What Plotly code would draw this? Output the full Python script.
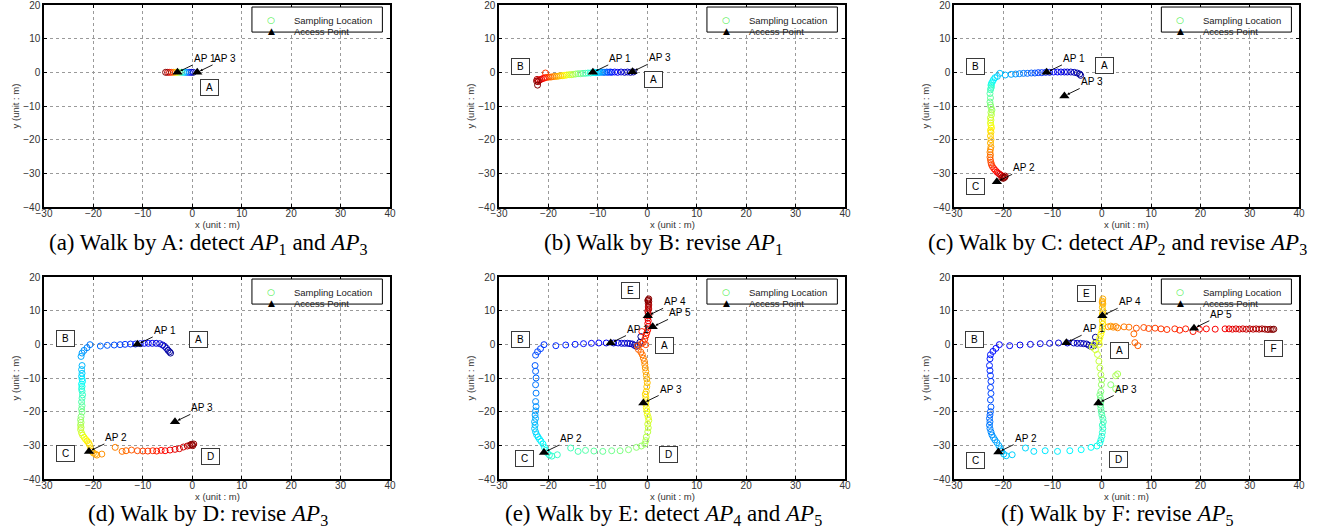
import plotly.graph_objects as go

# ---------------- data ----------------
X_TICKS = [-30, -20, -10, 0, 10, 20, 30, 40]
Y_TICKS = [-40, -30, -20, -10, 0, 10, 20]

# sampling locations, in walk order (colour = time along walk)
WALK_A = [(0.2, 0), (-0.2, 0), (-0.6, 0), (-1.0, 0), (-1.4, 0), (-1.8, 0), (-2.2, 0), (-2.6, 0),
          (-3.0, 0), (-3.4, 0), (-3.8, 0), (-4.2, 0), (-4.6, 0), (-5.0, 0), (-5.4, 0)]

WALK_B = [(-2.8, 0.1), (-3.4, 0), (-4.0, 0.1), (-4.6, 0), (-5.3, 0.1), (-6.0, 0), (-6.6, 0.1),
          (-7.2, 0), (-7.5, 0.1), (-7.9, 0), (-8.2, 0.1), (-8.6, 0), (-8.9, 0), (-9.2, 0.1), (-9.5, 0), (-9.8, 0),
          (-10.1, 0), (-10.4, -0.1), (-10.7, 0), (-11.0, -0.1),
          (-11.5, -0.2), (-12.0, -0.2), (-12.5, -0.3), (-13.0, -0.3),
          (-13.5, -0.4), (-14.0, -0.4), (-14.5, -0.5), (-15.0, -0.6),
          (-15.4, -0.7), (-15.8, -0.7), (-16.3, -0.8), (-16.7, -0.9),
          (-17.1, -1.0), (-17.5, -1.0), (-17.9, -1.1), (-18.3, -1.2), (-18.7, -1.2),
          (-19.1, -1.3), (-19.5, -1.4), (-19.9, -1.4), (-20.3, -1.5), (-20.6, -0.2), (-20.7, -1.6),
          (-21.0, -1.8), (-21.4, -2.0), (-21.7, -2.2), (-22.0, -2.4), (-22.3, -2.1), (-22.1, -2.8),
          (-22.4, -2.6), (-22.2, -3.8)]

WALK_C = [(-4.3, -0.9), (-4.5, -0.5), (-5.0, -0.2), (-5.6, 0), (-6.3, 0.1), (-7.0, 0.1), (-7.6, 0.1),
          (-8.3, 0.1), (-9.0, 0.1), (-9.8, 0.1), (-10.6, 0), (-11.4, 0), (-12.2, -0.1), (-12.9, -0.1),
          (-13.6, -0.2), (-14.3, -0.2), (-15.1, -0.3), (-15.9, -0.3), (-16.7, -0.4),
          (-17.5, -0.5), (-18.4, -0.6), (-19.6, -0.8), (-20.7, -0.3),
          (-21.2, -1.2), (-21.7, -1.6), (-22.0, -2.2), (-22.2, -2.8),
          (-22.4, -3.3), (-22.5, -3.8), (-22.4, -4.2), (-22.5, -4.7), (-22.6, -5.2),
          (-22.7, -6.3), (-22.6, -7.6), (-22.7, -8.8), (-22.6, -9.7), (-22.5, -10.4), (-22.3, -11.2), (-22.5, -11.9),
          (-22.4, -12.6), (-22.6, -13.5), (-22.5, -14.2), (-22.6, -15.0), (-22.5, -15.8), (-22.4, -16.5),
          (-22.6, -17.2), (-22.5, -17.8),
          (-22.6, -18.9), (-22.5, -20.0), (-22.6, -21.0), (-22.5, -22.1), (-22.6, -22.9),
          (-22.7, -23.7), (-22.6, -24.5), (-22.7, -25.2), (-22.6, -26.0), (-22.5, -26.8), (-22.4, -27.4),
          (-22.2, -28.0), (-21.9, -28.6),
          (-21.6, -29.1), (-21.3, -29.6), (-21.0, -30.0), (-20.7, -30.3),
          (-20.4, -30.6), (-20.1, -30.9), (-19.8, -31.1), (-20.3, -31.3), (-19.6, -30.8), (-20.0, -31.5),
          (-19.7, -31.2)]

WALK_D = [(-4.4, -2.6), (-4.6, -2.2), (-4.9, -1.8), (-5.2, -1.2), (-5.6, -0.6), (-6.0, -0.2),
          (-6.6, 0.2), (-7.3, 0.3), (-8.1, 0.3), (-8.9, 0.3), (-9.7, 0.3), (-10.5, 0.2),
          (-11.5, 0.1), (-12.5, 0.1), (-13.6, 0), (-14.6, -0.1),
          (-15.8, -0.2), (-17.2, -0.3), (-18.6, -0.5), (-20.7, -0.1),
          (-21.3, -1.0), (-21.9, -1.8), (-22.3, -2.6), (-22.5, -3.6),
          (-22.3, -6.3), (-22.4, -7.5), (-22.3, -8.6), (-22.4, -9.5), (-22.3, -10.3), (-22.2, -11.0),
          (-22.4, -11.8), (-22.3, -12.5), (-22.4, -13.2), (-22.3, -13.9),
          (-22.2, -15.0), (-22.3, -16.0), (-22.4, -17.1), (-22.3, -18.2), (-22.4, -19.2), (-22.3, -20.1),
          (-22.5, -21.5), (-22.6, -22.4), (-22.5, -23.2), (-22.6, -24.0), (-22.5, -24.7), (-22.6, -25.3),
          (-22.4, -26.3), (-22.2, -27.0), (-21.9, -27.6), (-21.6, -28.2), (-21.3, -28.7), (-21.0, -29.2),
          (-20.8, -29.8),
          (-20.6, -31.0), (-20.3, -31.8), (-20.0, -32.3), (-19.6, -32.6), (-19.3, -32.9), (-18.3, -32.6),
          (-15.6, -30.6), (-14.2, -31.8), (-13.4, -31.6), (-12.3, -31.4), (-11.1, -31.6), (-10.0, -31.7),
          (-9.0, -31.7), (-8.0, -31.6), (-7.2, -31.7), (-6.3, -31.5), (-5.5, -31.6), (-4.5, -31.4), (-3.5, -31.2),
          (-2.6, -31.0), (-1.8, -30.5), (-1.0, -30.2), (-0.5, -30.0), (0.0, -29.8), (0.3, -29.6),
          (0.1, -30.1), (-0.2, -29.7)]

WALK_E = [(-1.3, 2.3), (-1.5, 0.6), (-1.8, -0.3), (-2.2, -0.6), (-2.6, -0.3), (-3.0, 0.1), (-3.5, 0.2),
          (-4.0, 0.3), (-4.6, 0.3), (-5.2, 0.3), (-5.9, 0.4),
          (-6.8, 0.4), (-8.3, 0.4), (-9.8, 0.4), (-11.3, 0.3), (-12.9, 0.2), (-14.6, 0), (-16.5, -0.2), (-18.5, -0.4),
          (-20.9, -0.1), (-21.6, -1.3), (-22.2, -2.2), (-22.6, -3.2), (-22.7, -6.3), (-22.6, -8.0), (-22.5, -10.0),
          (-22.6, -12.0), (-22.5, -14.5), (-22.6, -17.0),
          (-22.5, -18.5), (-22.6, -19.8), (-22.7, -21.0), (-22.6, -22.0), (-22.8, -23.0), (-22.7, -24.0), (-22.8, -25.0),
          (-22.6, -26.0), (-22.4, -26.8), (-22.1, -27.5), (-21.8, -28.2), (-21.5, -28.8), (-21.1, -29.6),
          (-20.8, -30.6), (-20.5, -31.5), (-20.2, -32.3), (-19.8, -32.9), (-19.3, -33.2), (-18.2, -32.8),
          (-15.5, -30.8), (-14.0, -31.8), (-12.5, -31.5), (-10.8, -31.7), (-9.0, -31.8), (-7.2, -31.6),
          (-5.5, -31.6), (-3.8, -31.3),
          (-2.2, -30.6), (-1.2, -30.2), (-0.5, -29.6), (-0.3, -28.6), (-0.2, -27.5),
          (0.1, -26.0), (0.2, -24.8), (0.1, -23.7), (0.3, -22.6), (0.2, -21.7), (0.0, -20.8),
          (-0.1, -19.8), (-0.2, -18.8), (-0.3, -17.8), (-0.2, -16.7), (-0.3, -15.7), (-0.4, -14.8), (-0.2, -14.0),
          (-0.1, -12.6), (0.0, -11.4), (-0.1, -10.3), (-0.2, -9.2), (-0.3, -8.1),
          (-0.4, -7.0), (-0.5, -6.0), (-0.6, -5.0), (-0.8, -4.1), (-1.0, -3.1), (-1.3, -2.3),
          (-1.8, -1.5), (-2.0, -0.5), (-1.2, 0.2), (-0.3, -0.1), (-0.8, 0.6),
          (-0.5, 1.5), (-0.3, 2.5), (-1.1, 3.8), (-0.1, 3.4), (0.1, 4.3), (0.2, 5.3),
          (0.1, 6.2), (0.2, 7.0), (0.1, 7.8), (0.3, 8.5), (0.2, 9.2), (0.1, 9.9), (0.3, 10.5), (0.2, 11.1),
          (0.3, 11.7), (0.2, 12.2), (0.3, 12.7), (0.2, 13.2), (0.3, 13.5), (0.1, 13.0)]

WALK_F = [(-1.3, 2.1), (-1.2, 0.6), (-1.6, -0.4), (-2.1, -0.7), (-2.6, -0.3), (-3.1, 0.1), (-3.7, 0.2),
          (-4.3, 0.3), (-5.0, 0.3), (-5.7, 0.4),
          (-7.0, 0.4), (-8.8, 0.4), (-10.6, 0.3), (-12.5, 0.2), (-14.5, 0), (-16.6, -0.2), (-18.7, -0.4),
          (-20.8, -0.1), (-21.5, -1.2), (-22.1, -2.1), (-22.6, -3.1), (-22.7, -4.3), (-22.8, -6.3), (-22.7, -7.8),
          (-22.6, -9.3), (-22.5, -11.0), (-22.6, -12.8), (-22.5, -14.6), (-22.6, -16.5), (-22.5, -18.6),
          (-22.6, -20.0), (-22.7, -21.0), (-22.8, -22.0), (-22.7, -23.0), (-22.8, -24.0), (-22.7, -25.0),
          (-22.5, -26.0), (-22.3, -26.9),
          (-22.0, -27.7), (-21.7, -28.4), (-21.3, -29.2), (-20.9, -30.1), (-20.6, -31.0), (-20.3, -31.8),
          (-19.9, -32.6), (-19.4, -33.1), (-18.2, -32.8), (-15.5, -30.8), (-13.8, -31.8), (-11.5, -31.6),
          (-9.0, -31.8), (-6.5, -31.6),
          (-4.2, -31.3), (-2.2, -30.6), (-1.0, -30.2), (-0.4, -29.3), (-0.2, -28.4), (0.0, -27.3), (0.1, -26.2),
          (0.2, -25.0), (0.1, -24.0), (0.3, -23.0), (0.2, -22.0), (0.0, -21.0), (-0.1, -20.0), (-0.2, -19.0),
          (-0.3, -18.0), (-0.2, -17.0), (-0.3, -16.0), (-0.4, -15.0),
          (-0.2, -14.0), (1.8, -12.0), (2.8, -13.2), (-0.1, -12.0), (0.0, -10.5), (3.2, -8.8), (2.8, -9.3),
          (-0.2, -9.0), (-0.4, -7.0), (-0.6, -5.0), (-0.9, -3.0),
          (-1.3, -1.6), (-2.0, -0.8), (-1.5, 0.2), (-0.5, 0.0), (-0.6, 1.0), (-0.4, 2.0), (-0.2, 3.0),
          (0.0, 4.0), (0.1, 5.0), (0.2, 6.0),
          (0.1, 7.0), (0.2, 8.0), (0.1, 9.0), (0.2, 10.0), (0.1, 11.0), (0.2, 12.0), (0.1, 12.8), (0.2, 13.5),
          (0.1, 12.4),
          (1.3, 5.2), (1.8, 5.4), (2.3, 5.1), (2.8, 5.3), (3.2, 4.9),
          (4.5, 5.2), (5.5, 5.1), (6.5, 3.1), (6.7, 0.5), (7.3, -0.4), (7.0, 4.8), (8.5, 5.0),
          (9.5, 4.7), (10.8, 4.8), (12.0, 4.6), (13.2, 4.4), (14.8, 4.6), (15.8, 4.2), (17.0, 4.6), (18.5, 3.8),
          (19.8, 4.5), (21.2, 4.6), (23.0, 4.5),
          (25.0, 4.6), (25.8, 4.6), (26.5, 4.5), (27.2, 4.6), (27.9, 4.5), (28.6, 4.6), (29.3, 4.5), (30.0, 4.6),
          (30.7, 4.5), (31.3, 4.6), (31.9, 4.5), (32.5, 4.6), (33.1, 4.5), (33.7, 4.4), (34.2, 4.5),
          (34.6, 4.4), (34.9, 4.5)]

# access points (name, x, y)
AP_A = [("AP 1", -3.0, 0.0), ("AP 3", 1.0, 0.0)]
AP_B = [("AP 1", -11.0, 0.0), ("AP 3", -3.0, 0.2)]
AP_C = [("AP 1", -11.2, 0.0), ("AP 3", -7.6, -7.0), ("AP 2", -21.3, -32.5)]
AP_D = [("AP 1", -11.1, 0.0), ("AP 3", -3.5, -23.0), ("AP 2", -20.9, -31.8)]
AP_E = [("AP 1", -7.4, 0.4), ("AP 3", -0.8, -17.4), ("AP 2", -20.9, -32.1), ("AP 4", 0.1, 8.5), ("AP 5", 1.1, 5.2)]
AP_F = [("AP 1", -7.2, 0.5), ("AP 3", -0.7, -17.4), ("AP 2", -21.0, -32.0), ("AP 4", 0.1, 8.5), ("AP 5", 18.7, 4.8)]

# boxed location letters (letter, x, y)
BOX_A = [("A", 3.4, -4.6)]
BOX_B = [("B", -25.6, 1.6), ("A", 1.3, -2.1)]
BOX_C = [("B", -25.7, 1.6), ("A", 0.5, 2.1), ("C", -25.7, -33.8)]
BOX_D = [("B", -25.6, 1.6), ("A", 1.3, 1.3), ("C", -25.7, -32.3), ("D", 3.6, -33.3)]
BOX_E = [("E", -3.4, 15.9), ("B", -25.6, 1.3), ("A", 3.4, -0.4), ("C", -24.9, -33.8), ("D", 4.2, -32.8)]
BOX_F = [("E", -3.2, 15.1), ("B", -25.9, 1.3), ("A", 3.5, -1.7), ("C", -25.6, -34.5), ("D", 3.3, -34.3),
         ("F", 34.9, -1.2)]

CAPTIONS = [
    "(a) Walk by A: detect <i>AP</i><sub>1</sub> and <i>AP</i><sub>3</sub>",
    "(b) Walk by B: revise <i>AP</i><sub>1</sub>",
    "(c) Walk by C: detect <i>AP</i><sub>2</sub> and revise <i>AP</i><sub>3</sub>",
    "(d) Walk by D: revise <i>AP</i><sub>3</sub>",
    "(e) Walk by E: detect <i>AP</i><sub>4</sub> and <i>AP</i><sub>5</sub>",
    "(f) Walk by F: revise <i>AP</i><sub>5</sub>",
]

# ---------------- layout helpers ----------------
# label text offset (data units) from each AP to the start of its label
LABEL_DX, LABEL_DY = 3.1, 2.2

W, H = 1333, 531
COLS = [(44, 390), (499, 845), (954, 1299)]
ROWS = [(5, 207), (277, 479)]
CAPTION_Y = [244, 515]

JET = [[0, 'rgb(0,0,143)'], [0.125, 'rgb(0,0,255)'], [0.375, 'rgb(0,255,255)'],
       [0.625, 'rgb(255,255,0)'], [0.875, 'rgb(255,0,0)'], [1, 'rgb(128,0,0)']]

SANS = "Liberation Sans, Arial, sans-serif"
SERIF = "Liberation Serif, Times New Roman, serif"

panels = [(WALK_A, AP_A, BOX_A), (WALK_B, AP_B, BOX_B), (WALK_C, AP_C, BOX_C),
          (WALK_D, AP_D, BOX_D), (WALK_E, AP_E, BOX_E), (WALK_F, AP_F, BOX_F)]

fig = go.Figure()
annotations = []
shapes = []
layout = {}

for i, (walk, aps, boxes) in enumerate(panels):
    r, c = divmod(i, 3)
    n = i + 1
    s = "" if n == 1 else str(n)
    xr, yr = "x" + s, "y" + s
    x0, x1 = COLS[c]
    yt, yb = ROWS[r]
    common = dict(showgrid=True, gridcolor="#9a9a9a", griddash="dot", gridwidth=1, zeroline=False,
                  showline=True, linecolor="black", linewidth=1.5, mirror="ticks",
                  ticks="inside", ticklen=3, tickcolor="black", automargin=False, fixedrange=True,
                  ticklabeloverflow="allow",
                  tickfont=dict(family=SANS, size=10, color="#333"))
    layout["xaxis" + s] = dict(
        domain=[x0 / W, x1 / W], range=[-30, 40], tickvals=X_TICKS, anchor=yr, ticklabelstandoff=-4,
        **common)
    layout["yaxis" + s] = dict(
        domain=[1 - yb / H, 1 - yt / H], range=[-40, 20], tickvals=Y_TICKS, anchor=xr,
        title=dict(text="y (unit : m)", font=dict(family=SANS, size=9.5, color="#333"), standoff=2),
        **common)

    wx = [p[0] for p in walk]
    wy = [p[1] for p in walk]
    fig.add_trace(go.Scatter(
        x=wx, y=wy, mode="markers", name="Sampling Location", showlegend=False,
        xaxis=xr, yaxis=yr,
        marker=dict(symbol="circle-open", size=6, color=list(range(len(wx))), colorscale=JET,
                    cmin=0, cmax=len(wx) - 1, line=dict(width=1))))
    fig.add_trace(go.Scatter(
        x=[a[1] for a in aps], y=[a[2] for a in aps], mode="markers", name="Access Point",
        showlegend=False, xaxis=xr, yaxis=yr,
        marker=dict(symbol="triangle-up", size=9, color="black")))

    for name, ax_, ay_ in aps:
        annotations.append(dict(
            x=ax_, y=ay_, xref=xr, yref=yr, ax=ax_ + LABEL_DX, ay=ay_ + LABEL_DY, axref=xr, ayref=yr,
            text=name, showarrow=True, arrowhead=2, arrowsize=0.6, arrowwidth=0.9, arrowcolor="black",
            standoff=3, xanchor="left", yanchor="bottom", borderpad=0,
            font=dict(family=SANS, size=10, color="black")))
    for letter, bx, by in boxes:
        annotations.append(dict(
            x=bx, y=by, xref=xr, yref=yr, text=letter, showarrow=False,
            bordercolor="#3a3a3a", borderwidth=1, borderpad=1, bgcolor="white",
            width=15, height=13, font=dict(family=SANS, size=10, color="black")))

    dx, dy = xr + " domain", yr + " domain"
    # x axis title
    annotations.append(dict(x=0.5, y=0, xref=dx, yref=dy, text="x (unit : m)", showarrow=False,
                            xanchor="center", yanchor="top", yshift=-11, borderpad=0,
                            font=dict(family=SANS, size=9.5, color="#333")))

    # legend box
    shapes.append(dict(type="rect", xref=dx, yref=dy, x0=0.601, x1=0.978, y0=0.866, y1=0.990,
                       line=dict(color="black", width=1), fillcolor="white", layer="above"))
    annotations.append(dict(x=0.670, y=0.953, xref=dx, yref=dy, text="○", showarrow=False, borderpad=0,
                            font=dict(family="DejaVu Sans", size=9, color="#44ee44")))
    annotations.append(dict(x=0.670, y=0.903, xref=dx, yref=dy, text="▲", showarrow=False, borderpad=0,
                            font=dict(family="DejaVu Sans", size=9, color="black")))
    annotations.append(dict(x=0.72, y=0.953, xref=dx, yref=dy, text="Sampling Location", showarrow=False,
                            xanchor="left", borderpad=0, font=dict(family=SANS, size=9.5, color="#222")))
    annotations.append(dict(x=0.72, y=0.903, xref=dx, yref=dy, text="Access Point", showarrow=False,
                            xanchor="left", borderpad=0, font=dict(family=SANS, size=9.5, color="#222")))

    # caption
    annotations.append(dict(x=((x0 + x1) / 2 - 9) / W, y=1 - CAPTION_Y[r] / H, xref="paper", yref="paper",
                            text=CAPTIONS[i], showarrow=False, xanchor="center", yanchor="middle",
                            font=dict(family=SERIF, size=23, color="black")))

fig.update_layout(
    width=W, height=H, margin=dict(l=0, r=0, t=0, b=0),
    paper_bgcolor="white", plot_bgcolor="white",
    annotations=annotations, shapes=shapes, showlegend=False, **layout)

fig.write_html("out.html", config={"displayModeBar": False},
               post_script="document.body.style.margin='0px';document.body.style.overflow='hidden';")
